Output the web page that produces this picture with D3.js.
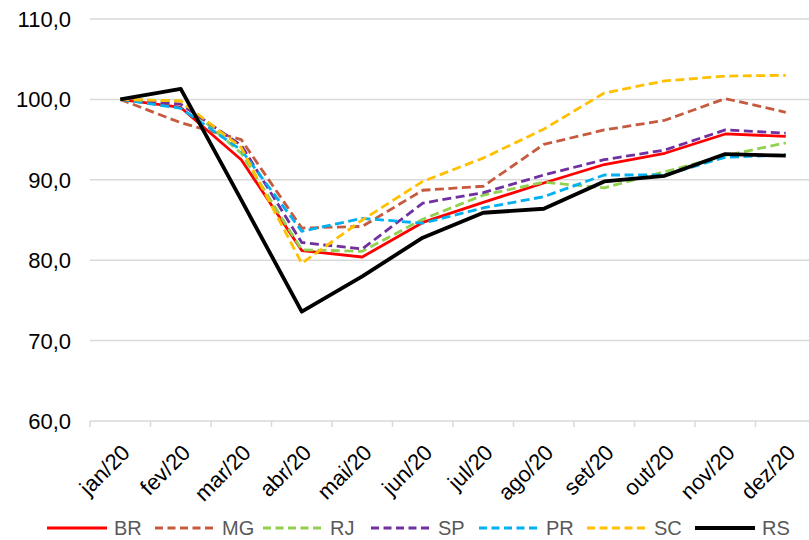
<!DOCTYPE html>
<html>
<head>
<meta charset="utf-8">
<script src="https://cdn.jsdelivr.net/npm/d3@7"></script>
<style>
  body { margin: 0; background: #fff; }
  text { font-family: "Liberation Sans", Arial, sans-serif; }
</style>
</head>
<body>
<svg id="chart" width="809" height="540"></svg>
<script>
// months on the x axis
var months = ["jan/20", "fev/20", "mar/20", "abr/20", "mai/20", "jun/20",
              "jul/20", "ago/20", "set/20", "out/20", "nov/20", "dez/20"];

// index values per state (jan/20 = 100)
var BR = [100, 99.0, 92.5, 81.2, 80.4, 84.7, 87.2, 89.6, 91.9, 93.3, 95.7, 95.4];
var MG = [100, 97.1, 95.0, 84.0, 84.2, 88.7, 89.2, 94.4, 96.2, 97.4, 100.1, 98.4];
var RJ = [100, 99.8, 93.3, 81.3, 81.1, 85.1, 88.1, 89.7, 89.0, 91.0, 93.0, 94.6];
var SP = [100, 99.4, 94.3, 82.2, 81.4, 87.1, 88.4, 90.6, 92.5, 93.7, 96.2, 95.8];
var PR = [100, 98.9, 93.7, 83.6, 85.2, 84.6, 86.5, 87.9, 90.6, 90.6, 92.8, 93.1];
var SC = [100, 99.8, 94.0, 79.6, 85.0, 89.8, 92.7, 96.3, 100.8, 102.3, 102.9, 103.0];
var RS = [100, 101.3, 87.5, 73.6, 78.0, 82.8, 85.9, 86.4, 89.8, 90.5, 93.2, 93.0];

var yTicks = [60, 70, 80, 90, 100, 110];

var series = [
  {name: "BR", values: BR, color: "#ff0000", width: 2.8, dash: null},
  {name: "MG", values: MG, color: "#c55a3f", width: 2.8, dash: "9,4.5"},
  {name: "RJ", values: RJ, color: "#92d050", width: 2.8, dash: "9,4.5"},
  {name: "SP", values: SP, color: "#7030a0", width: 2.8, dash: "9,4.5"},
  {name: "PR", values: PR, color: "#00b0f0", width: 2.8, dash: "9,4.5"},
  {name: "SC", values: SC, color: "#ffc000", width: 2.8, dash: "9,4.5"},
  {name: "RS", values: RS, color: "#000000", width: 3.8, dash: null}
];

var svg = d3.select("#chart");

// set the ranges
var x = d3.scaleBand().domain(months).range([90, 816]);
var y = d3.scaleLinear().domain([60, 110]).range([421, 19]);

// gridlines
svg.append("g").selectAll("line")
  .data(yTicks.slice(1))
  .enter().append("line")
    .attr("x1", 90).attr("x2", 809)
    .attr("y1", function(d) { return y(d); })
    .attr("y2", function(d) { return y(d); })
    .attr("stroke", "#d9d9d9")
    .attr("stroke-width", 1.5);

// y axis labels
svg.append("g").selectAll("text")
  .data(yTicks)
  .enter().append("text")
    .attr("x", 71)
    .attr("y", function(d) { return y(d); })
    .attr("dy", "0.36em")
    .attr("text-anchor", "end")
    .attr("font-size", 22)
    .attr("fill", "#000")
    .text(function(d) { return d3.format(".1f")(d).replace(".", ","); });

// x axis line and ticks between categories
var xAxis = svg.append("g");
xAxis.append("line")
  .attr("x1", 90).attr("x2", 809)
  .attr("y1", y(60)).attr("y2", y(60))
  .attr("stroke", "#d9d9d9").attr("stroke-width", 1.5);
xAxis.selectAll(".tick")
  .data(months)
  .enter().append("line")
    .attr("class", "tick")
    .attr("x1", function(d) { return x(d); })
    .attr("x2", function(d) { return x(d); })
    .attr("y1", y(60)).attr("y2", y(60) + 6)
    .attr("stroke", "#d9d9d9").attr("stroke-width", 1.5);

// x axis labels, rotated
xAxis.selectAll(".lbl")
  .data(months)
  .enter().append("text")
    .attr("class", "lbl")
    .attr("transform", function(d) {
      return "translate(" + (x(d) + x.bandwidth() / 2 + 11) + "," + 454 + ") rotate(-45)";
    })
    .attr("text-anchor", "end")
    .attr("font-size", 22)
    .attr("fill", "#000")
    .text(function(d) { return d; });

// define the line
var valueline = d3.line()
  .x(function(d, i) { return x(months[i]) + x.bandwidth() / 2; })
  .y(function(d) { return y(d); });

svg.append("g").selectAll("path")
  .data(series)
  .enter().append("path")
    .attr("fill", "none")
    .attr("stroke", function(d) { return d.color; })
    .attr("stroke-width", function(d) { return d.width; })
    .attr("stroke-dasharray", function(d) { return d.dash; })
    .attr("stroke-linejoin", "round")
    .attr("d", function(d) { return valueline(d.values); });

// legend
var legend = svg.append("g").selectAll("g")
  .data(series)
  .enter().append("g")
    .attr("transform", function(d, i) { return "translate(" + (47 + i * 108) + ",528)"; });

legend.append("line")
  .attr("x1", 0).attr("x2", 60)
  .attr("stroke", function(d) { return d.color; })
  .attr("stroke-width", function(d) { return d.width; })
  .attr("stroke-dasharray", function(d) { return d.dash ? "8,4.5" : null; });

legend.append("text")
  .attr("x", 67)
  .attr("dy", "0.35em")
  .attr("font-size", 20)
  .attr("fill", "#595959")
  .text(function(d) { return d.name; });
</script>
</body>
</html>
